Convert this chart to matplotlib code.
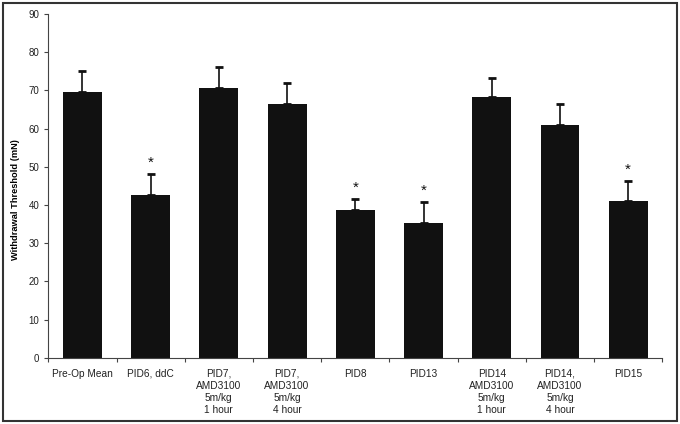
import matplotlib
matplotlib.use('Agg')
import matplotlib.pyplot as plt
from matplotlib.patches import Rectangle

plt.rcParams['font.family'] = ['Liberation Sans', 'DejaVu Sans']

labels = ['Pre-Op Mean', 'PID6, ddC', 'PID7,\nAMD3100\n5m/kg\n1 hour',
          'PID7,\nAMD3100\n5m/kg\n4 hour', 'PID8', 'PID13',
          'PID14\nAMD3100\n5m/kg\n1 hour', 'PID14,\nAMD3100\n5m/kg\n4 hour', 'PID15']
means = [69.7, 42.7, 70.7, 66.5, 38.8, 35.3, 68.2, 61.0, 41.1]
errors = [5.4, 5.4, 5.3, 5.5, 2.8, 5.5, 5.0, 5.4, 5.2]
significant = [False, True, False, False, True, True, False, False, True]

fig = plt.figure(figsize=(6.8, 4.24), dpi=100)
ax = fig.add_axes([0.071, 0.156, 0.903, 0.811])

x = range(len(labels))
ax.bar(x, means, width=0.57, color='#111111', zorder=2)
ax.errorbar(x, means, yerr=[[0] * len(errors), errors], fmt='none',
            ecolor='#111111', elinewidth=1.2, capsize=3, capthick=2, zorder=3)

# significance markers
for i, sig in enumerate(significant):
    if sig:
        ax.text(i, means[i] + errors[i] + 1.2, '*', ha='center', va='bottom',
                fontsize=11, color='#111111')

ax.set_xlim(-0.5, len(labels) - 0.5)
ax.set_ylim(0, 90)
ax.set_yticks(range(0, 91, 10))
ax.set_xticks([i + 0.5 for i in range(-1, len(labels))], minor=False)
ax.set_xticklabels([])
ax.set_xticks(list(x), minor=True)
ax.set_xticklabels(labels, minor=True, fontsize=7.3, color='#222222', linespacing=1.25)
ax.tick_params(axis='x', which='minor', length=0, pad=8)
ax.tick_params(axis='x', which='major', length=3, direction='out', color='#444444')
ax.tick_params(axis='y', length=3, direction='out', labelsize=7,
               labelcolor='#222222', color='#444444')

for side in ['top', 'right']:
    ax.spines[side].set_visible(False)
for side in ['left', 'bottom']:
    ax.spines[side].set_color('#444444')
    ax.spines[side].set_linewidth(0.8)

ax.set_ylabel('Withdrawal Threshold (mN)', fontsize=6.7, fontweight='bold')
ax.yaxis.set_label_coords(-0.046, 0.46)

# outer frame around the chart
fig.patches.append(Rectangle((0.004, 0.006), 0.992, 0.988, transform=fig.transFigure,
                             fill=False, edgecolor='#333333', linewidth=1.5))

fig.savefig('out.png', dpi=100)
